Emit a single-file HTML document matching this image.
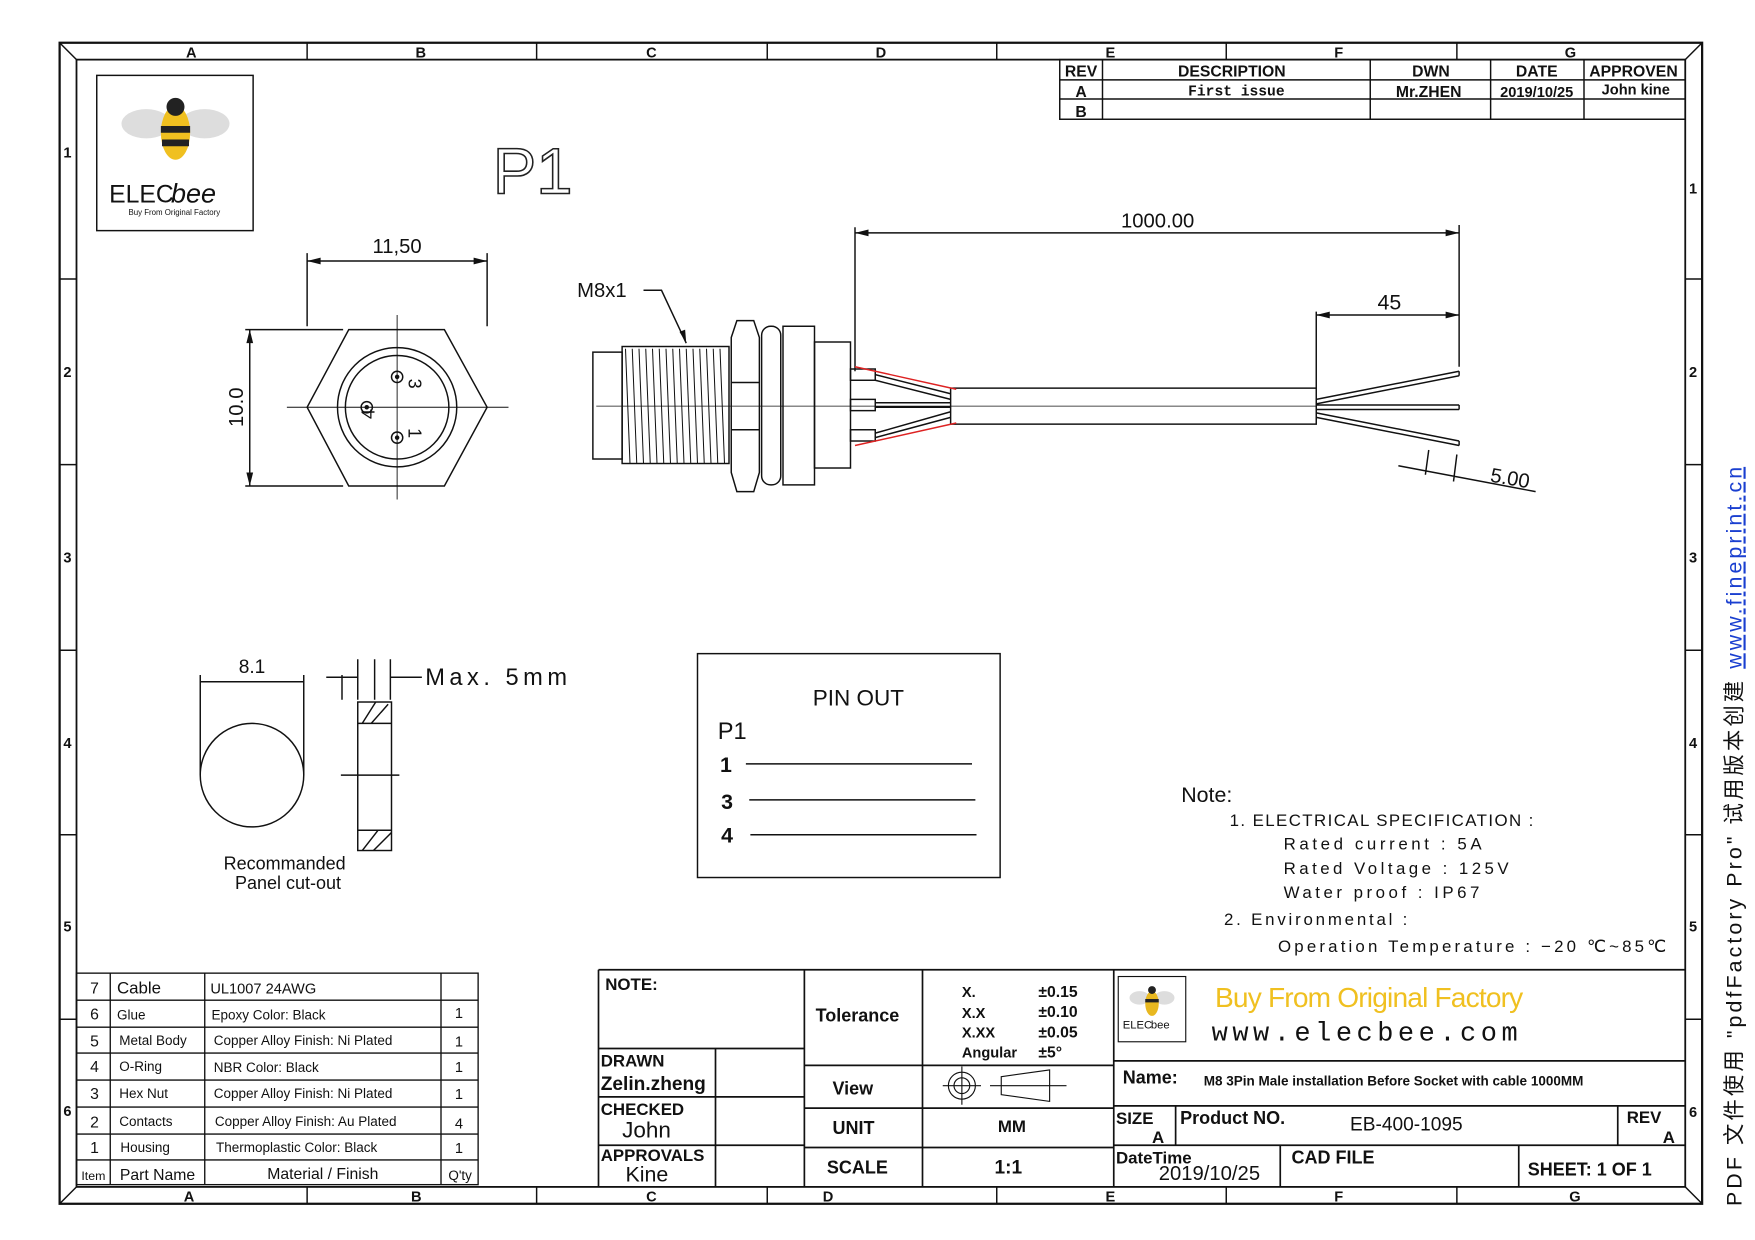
<!DOCTYPE html>
<html><head><meta charset="utf-8"><style>
html,body{margin:0;padding:0;background:#fff;width:1755px;height:1240px;overflow:hidden}
svg{display:block}
text{font-family:"Liberation Sans",sans-serif;fill:#111}
.s{font-family:"Liberation Serif",serif;font-weight:bold}
.m{font-family:"Liberation Mono",monospace}
</style></head><body>
<svg width="1755" height="1240" viewBox="0 0 1560 1102.2" preserveAspectRatio="none" xmlns="http://www.w3.org/2000/svg">
<g fill="none" stroke="#111" stroke-width="1.3">
<rect x="53" y="38" width="1460" height="1032" stroke-width="2"/>
<rect x="68" y="53" width="1430" height="1002" stroke-width="1.6"/>
<path d="M53 38L68 53M1513 38L1498 53M53 1070L68 1055M1513 1070L1498 1055"/>
<path d="M273 38V53M477 38V53M682 38V53M886 38V53M1090 38V53M1295 38V53M273 1055V1070M477 1055V1070M682 1055V1070M886 1055V1070M1090 1055V1070M1295 1055V1070"/>
<path d="M53 248H68M53 413H68M53 578H68M53 742H68M53 906H68M1498 248H1513M1498 413H1513M1498 578H1513M1498 742H1513M1498 906H1513"/>
<rect x="942" y="53" width="556" height="53"/>
<path d="M942 71H1498M942 88H1498M980 53V106M1218 53V106M1325 53V106M1408 53V106"/>
<rect x="86" y="67" width="139" height="138"/>
</g>
<g font-weight="bold" font-size="13" text-anchor="middle">
<text x="170" y="51">A</text><text x="374" y="51">B</text><text x="579" y="51">C</text><text x="783" y="51">D</text><text x="987" y="51">E</text><text x="1190" y="51">F</text><text x="1396" y="51">G</text>
<text x="168" y="1068">A</text><text x="370" y="1068">B</text><text x="579" y="1068">C</text><text x="736" y="1068">D</text><text x="987" y="1068">E</text><text x="1190" y="1068">F</text><text x="1400" y="1068">G</text>
<text x="60" y="140">1</text><text x="60" y="335">2</text><text x="60" y="500">3</text><text x="60" y="665">4</text><text x="60" y="828">5</text><text x="60" y="992">6</text>
<text x="1505" y="172">1</text><text x="1505" y="335">2</text><text x="1505" y="500">3</text><text x="1505" y="665">4</text><text x="1505" y="828">5</text><text x="1505" y="993">6</text>
</g>
<g class="s" font-size="14" text-anchor="middle">
<text x="961" y="68">REV</text><text x="1095" y="68">DESCRIPTION</text><text x="1272" y="68">DWN</text><text x="1366" y="68">DATE</text><text x="1452" y="68">APPROVEN</text>
<text x="961" y="86">A</text><text x="1099" y="85" class="m" font-size="13">First issue</text><text x="1270" y="86">Mr.ZHEN</text><text x="1366" y="86" font-size="13">2019/10/25</text><text x="1454" y="84" font-size="13">John kine</text>
<text x="961" y="104">B</text>
</g>
<g>
<ellipse cx="130" cy="110" rx="22" ry="13" fill="#ddd"/><ellipse cx="182" cy="110" rx="22" ry="13" fill="#ddd"/>
<ellipse cx="156" cy="118" rx="13" ry="24" fill="#f0c020"/>
<rect x="143" y="112" width="26" height="6" fill="#222"/><rect x="144" y="124" width="24" height="6" fill="#222"/>
<circle cx="156" cy="95" r="8" fill="#222"/>
<text x="97" y="180" font-size="22" fill="#444">ELEC</text><text x="152" y="180" font-size="24" fill="#f0c020" font-style="italic">bee</text>
<text x="155" y="191" font-size="7" text-anchor="middle" fill="#777">Buy From Original Factory</text>
</g>
<text x="438" y="172" font-size="58" fill="none" stroke="#222" stroke-width="1.4" style="fill:none">P1</text>
<g fill="none" stroke="#111" stroke-width="1.3">
<polygon points="273,362 310,293 395,293 433,362 395,432 310,432"/>
<circle cx="353" cy="362" r="53"/><circle cx="353" cy="362" r="46"/>
<circle cx="353" cy="335" r="5"/><circle cx="353" cy="389" r="5"/><circle cx="326" cy="362" r="5"/>
<path d="M255 362H452M353 280V444" stroke-width="0.8"/>
<path d="M273 290V225M433 290V225M273 232H433M305 293H218M305 432H218M222 293V432"/>
</g>
<circle cx="353" cy="335" r="2" fill="#111"/><circle cx="353" cy="389" r="2" fill="#111"/><circle cx="326" cy="362" r="2" fill="#111"/>
<text x="353" y="225" font-size="18" text-anchor="middle">11,50</text>
<text transform="translate(216,362) rotate(-90)" font-size="18" text-anchor="middle">10.0</text>
<text transform="translate(363,341) rotate(90)" font-size="16" text-anchor="middle">3</text>
<text transform="translate(363,385) rotate(90)" font-size="16" text-anchor="middle">1</text>
<text transform="translate(333,368) rotate(-90)" font-size="16" text-anchor="middle">4</text>
<g fill="none" stroke="#111" stroke-width="1.3">
<rect x="527" y="313" width="26" height="95"/>
<rect x="553" y="308" width="95" height="104"/>
<path d="M556 310 l4 102 M562 310 l4 102 M568 310 l4 102 M574 310 l4 102 M580 310 l4 102 M586 310 l4 102 M592 310 l4 102 M598 310 l4 102 M604 310 l4 102 M610 310 l4 102 M616 310 l4 102 M622 310 l4 102 M628 310 l4 102 M634 310 l4 102 M640 310 l4 102" stroke-width="0.9"/>
<polygon points="655,285 670,285 675,300 675,420 670,437 655,437 650,420 650,300"/>
<path d="M650 340H675M650 382H675"/>
<rect x="677" y="290" width="17" height="141" rx="8"/>
<rect x="696" y="290" width="28" height="141"/>
<rect x="724" y="304" width="32" height="112"/>
<rect x="756" y="328" width="22" height="10"/><rect x="756" y="355" width="22" height="10"/><rect x="756" y="382" width="22" height="10"/>
<path d="M778 333L845 350M778 338L845 355M778 358H845M778 362H845M778 385L845 366M778 389L845 371"/>
<rect x="845" y="345" width="325" height="32"/>
<path d="M1170 355L1297 330M1170 359L1297 334M1170 360H1297M1170 364H1297M1170 367L1297 392M1170 371L1297 396"/>
<path d="M1297 330v4M1297 360v4M1297 392v4"/>
<path d="M530 361H1170" stroke-width="0.7"/>
<path d="M760 202V330M1297 200V326M760 207H1297M1170 277V345M1170 280H1297"/>
<path d="M1243 414L1365 437M1270 400L1267 422M1295 404L1292 428"/>
<path d="M572 258H588L610 305"/>
</g>
<path d="M760 326L850 346M760 396L850 376" stroke="#d22" stroke-width="1.3"/>
<g fill="#111"><path d="M760 207l12 -3v6zM1297 207l-12 -3v6zM1170 280l12-3v6zM1297 280l-12-3v6zM273 232l12-3v6zM433 232l-12-3v6zM222 293l-3 12h6zM222 432l-3 -12h6zM610 305l-6-10 5-2z"/></g>
<text x="1029" y="202" font-size="18" text-anchor="middle">1000.00</text>
<text x="1235" y="275" font-size="19" text-anchor="middle">45</text>
<text x="513" y="264" font-size="18">M8x1</text>
<text x="1324" y="428" font-size="18" transform="rotate(10 1324 428)">5.00</text>
<g fill="none" stroke="#111" stroke-width="1.3">
<ellipse cx="224" cy="689" rx="46" ry="46"/>
<path d="M178 689V600M270 689V600M178 606H270"/>
<rect x="318" y="624" width="30" height="132"/>
<path d="M318 643H348M318 738H348M303 689H355M304 600V622M318 586V622M333 586V622M347 586V622M290 602H318M347 602H375"/>
<path d="M322 643L334 624M330 643L345 626M322 756L336 738M332 756L348 740"/>
</g>
<text x="224" y="598" font-size="17" text-anchor="middle">8.1</text>
<text x="378" y="609" font-size="21" textLength="126">Max. 5mm</text>
<text x="253" y="773" font-size="16" text-anchor="middle">Recommanded</text>
<text x="256" y="790" font-size="16" text-anchor="middle">Panel cut-out</text>
<rect x="620" y="581" width="269" height="199" fill="none" stroke="#111" stroke-width="1.3"/>
<text x="763" y="627" font-size="20" text-anchor="middle">PIN OUT</text>
<text x="638" y="657" font-size="21">P1</text>
<g font-size="19" font-weight="bold"><text x="640" y="686">1</text><text x="641" y="719">3</text><text x="641" y="749">4</text></g>
<path d="M663 679H864M666 711H867M667 742H868" stroke="#111" stroke-width="1.3"/>
<g font-size="15">
<text x="1050" y="713" font-size="19">Note:</text>
<text x="1093" y="734" textLength="270">1. ELECTRICAL  SPECIFICATION  :</text>
<text x="1141" y="755" textLength="176">Rated  current  :  5A</text>
<text x="1141" y="777" textLength="200">Rated  Voltage  :  125V</text>
<text x="1141" y="798" textLength="174">Water  proof  :  IP67</text>
<text x="1088" y="822" textLength="163">2. Environmental  :</text>
<text x="1136" y="846" textLength="345">Operation  Temperature  :  −20  ℃~85℃</text>
</g>
<g fill="none" stroke="#111" stroke-width="1.2">
<rect x="68" y="865" width="357" height="188"/>
<path d="M98 865V1053M182 865V1053M392 865V1053M68 889H425M68 913H425M68 936H425M68 960H425M68 984H425M68 1008H425M68 1031H425"/>
</g>
<g font-size="12">
<g text-anchor="middle" font-size="14"><text x="84" y="883">7</text><text x="84" y="906">6</text><text x="84" y="930">5</text><text x="84" y="953">4</text><text x="84" y="977">3</text><text x="84" y="1002">2</text><text x="84" y="1025">1</text></g>
<text x="104" y="883" font-size="15">Cable</text><text x="104" y="906">Glue</text><text x="106" y="929">Metal Body</text><text x="106" y="952">O-Ring</text><text x="106" y="976">Hex Nut</text><text x="106" y="1001">Contacts</text><text x="107" y="1024">Housing</text>
<text x="187" y="883" font-size="13">UL1007  24AWG</text><text x="188" y="906">Epoxy Color: Black</text><text x="190" y="929">Copper Alloy  Finish: Ni Plated</text><text x="190" y="953">NBR Color: Black</text><text x="190" y="976">Copper Alloy  Finish: Ni Plated</text><text x="191" y="1001">Copper Alloy  Finish: Au Plated</text><text x="192" y="1024">Thermoplastic  Color: Black</text>
<g text-anchor="middle" font-size="13"><text x="408" y="905">1</text><text x="408" y="930">1</text><text x="408" y="953">1</text><text x="408" y="977">1</text><text x="408" y="1003">4</text><text x="408" y="1025">1</text></g>
<text x="83" y="1049" text-anchor="middle" font-size="11">Item</text><text x="140" y="1049" text-anchor="middle" font-size="14">Part Name</text><text x="287" y="1048" text-anchor="middle" font-size="14">Material / Finish</text><text x="409" y="1049" text-anchor="middle">Q'ty</text>
</g>
<g fill="none" stroke="#111" stroke-width="1.5">
<path d="M532 862H1498M532 862V1055M715 862V1055M820 862V1055M990 862V1055"/>
<path d="M532 932H715M636 932V1055M532 975H715M532 1018H715"/>
<path d="M715 947H990M715 985H990M715 1020H990"/>
<path d="M990 943H1498M990 983H1498M990 1018H1498M1045 983V1018M1438 983V1018M1138 1018V1055M1350 1018V1055"/>
<rect x="994" y="868" width="60" height="58" stroke-width="1"/>
<circle cx="855" cy="965" r="12" stroke-width="1"/><circle cx="855" cy="965" r="7" stroke-width="1"/><path d="M838 965H872M855 948V982M880 965H948M890 957L933 951V979L890 973Z" stroke-width="1"/>
</g>
<g>
<ellipse cx="1013" cy="887" rx="9" ry="6" fill="#ddd"/><ellipse cx="1035" cy="887" rx="9" ry="6" fill="#ddd"/>
<ellipse cx="1024" cy="892" rx="6" ry="11" fill="#e8b820"/><rect x="1018" y="888" width="12" height="3" fill="#222"/><circle cx="1024" cy="880" r="3.5" fill="#222"/>
<text x="998" y="914" font-size="10" fill="#444">ELEC</text><text x="1023" y="914" font-size="10" fill="#e8b820">bee</text>
</g>
<text x="1080" y="895" font-size="25" fill="#f0c020" style="fill:#f0c020" textLength="274">Buy From Original  Factory</text>
<text x="1077" y="925" font-size="24" class="m" letter-spacing="4">www.elecbee.com</text>
<g class="s" font-size="15">
<text x="538" y="880">NOTE:</text>
<text x="725" y="908" font-size="16">Tolerance</text>
<text x="855" y="886" font-size="13">X.</text><text x="855" y="905" font-size="13">X.X</text><text x="855" y="922" font-size="13">X.XX</text><text x="855" y="940" font-size="13">Angular</text>
<text x="923" y="886" font-size="14">±0.15</text><text x="923" y="904" font-size="14">±0.10</text><text x="923" y="922" font-size="14">±0.05</text><text x="923" y="940" font-size="14">±5°</text>
<text x="534" y="948">DRAWN</text><text x="534" y="969" font-size="17">Zelin.zheng</text>
<text x="534" y="991">CHECKED</text><text x="534" y="1032">APPROVALS</text>
<text x="740" y="973" font-size="16">View</text><text x="740" y="1008" font-size="16">UNIT</text><text x="735" y="1043" font-size="16">SCALE</text>
<text x="887" y="1006">MM</text><text x="884" y="1043" font-size="17">1:1</text>
<text x="998" y="963" font-size="16">Name:</text>
<text x="1070" y="965" font-size="12">M8 3Pin Male installation Before Socket with cable 1000MM</text>
<text x="992" y="999">SIZE</text><text x="1024" y="1016">A</text>
<text x="1049" y="999" font-size="16">Product NO.</text><text x="1200" y="1005" font-size="17" font-weight="normal">EB-400-1095</text>
<text x="1446" y="998">REV</text><text x="1478" y="1016">A</text>
<text x="992" y="1034">DateTime</text>
<text x="1148" y="1034" font-size="16">CAD FILE</text>
<text x="1358" y="1045" font-size="16">SHEET:  1 OF 1</text>
</g>
<text x="553" y="1011" font-size="20">John</text>
<text x="556" y="1050" font-size="19">Kine</text>
<text x="1030" y="1049" font-size="18">2019/10/25</text>
<text transform="translate(1548,1072) rotate(-90)" font-size="19" textLength="657" font-family="Liberation Mono, Noto Sans CJK SC, sans-serif">PDF 文件使用 "pdfFactory Pro" 试用版本创建 <tspan fill="#1a3fd0" style="fill:#1a3fd0" text-decoration="underline">www.fineprint.cn</tspan></text>
</svg>
</body></html>
